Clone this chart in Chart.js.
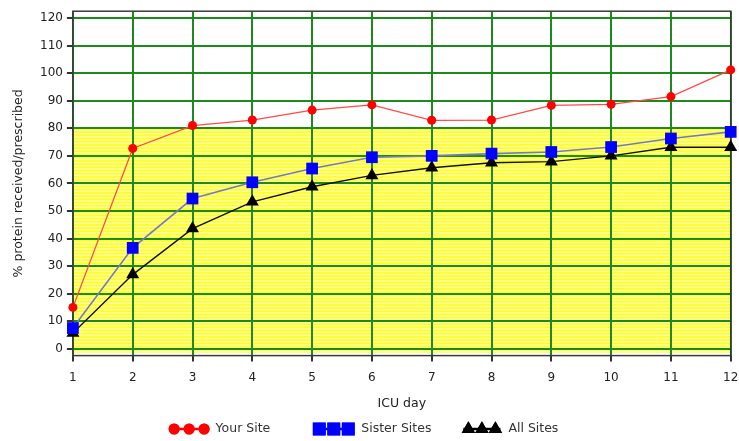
<!DOCTYPE html>
<html>
<head>
<meta charset="utf-8">
<script src="https://cdn.jsdelivr.net/npm/chart.js@4.4.0/dist/chart.umd.min.js"></script>
<style>
  html, body { margin: 0; padding: 0; background: #fff; }
  #wrap { width: 739px; height: 441px; }
</style>
</head>
<body>
<div id="wrap"><canvas id="chart"></canvas></div>
<script>
// values
const icuDays = ["1", "2", "3", "4", "5", "6", "7", "8", "9", "10", "11", "12"];
const yourSite = [15, 72.7, 81, 83, 86.6, 88.5, 82.9, 83, 88.3, 88.7, 91.5, 101.2];
const sisterSites = [7.5, 36.6, 54.5, 60.4, 65.4, 69.5, 70, 70.8, 71.4, 73.2, 76.3, 78.7];
const allSites = [5.7, 26.9, 43.6, 53.3, 58.8, 62.9, 65.7, 67.5, 67.9, 70, 73.1, 73.1];
const yTicks = [0, 10, 20, 30, 40, 50, 60, 70, 80, 90, 100, 110, 120];
const targetLevel = 80;

const FONT = "'DejaVu Sans', Verdana, sans-serif";

// yellow striped band under the target level, plus the frame
const targetBand = {
  id: "targetBand",
  beforeDraw(chart) {
    const { ctx, chartArea: a, scales } = chart;
    const top = scales.y.getPixelForValue(targetLevel);
    const bottom = a.bottom - 3;
    ctx.save();
    ctx.fillStyle = "#ffff30";
    ctx.fillRect(a.left, top, a.right - a.left, bottom - top);
    ctx.fillStyle = "#ffffa0";
    for (let yy = top + 1.5; yy < bottom - 1; yy += 3.2) {
      ctx.fillRect(a.left, yy, a.right - a.left, 1.4);
    }
    ctx.restore();
  },
  beforeDatasetsDraw(chart) {
    const { ctx, chartArea: a } = chart;
    ctx.save();
    ctx.strokeStyle = "#3a3a3a";
    ctx.lineWidth = 1.5;
    ctx.strokeRect(a.left, a.top, a.right - a.left, a.bottom - a.top);
    ctx.restore();
  }
};

// legend: three markers joined by a line, then the label
function drawGlyph(ctx, ds, x, cy) {
  const round = ds.pointStyle === "circle";
  const tri = ds.pointStyle === "triangle";
  const step = round ? 15 : (tri ? 13.5 : 14.5);
  const size = round ? 5.5 : ds.pointRadius + (tri ? 0.3 : 0.8);
  const off = round ? 5.5 : 7;
  const w = off * 2 + step * 2;
  ctx.save();
  ctx.strokeStyle = ds.pointBackgroundColor;
  ctx.lineWidth = 2.5;
  ctx.beginPath();
  ctx.moveTo(x + 2, cy);
  ctx.lineTo(x + w - 2, cy);
  ctx.stroke();
  ctx.fillStyle = ds.pointBackgroundColor;
  for (let i = 0; i < 3; i++) {
    ctx.beginPath();
    Chart.helpers.drawPoint(ctx, { pointStyle: ds.pointStyle, radius: size, borderWidth: 0 }, x + off + i * step, cy);
    ctx.fill();
  }
  ctx.restore();
  return w;
}

const legendGaps = [40, 30];
const siteLegend = {
  id: "siteLegend",
  afterDraw(chart) {
    const { ctx } = chart;
    const cy = chart.height - 12;
    ctx.save();
    ctx.font = "12.5px " + FONT;
    ctx.textBaseline = "middle";
    const sets = chart.data.datasets;
    const widths = sets.map(ds => 42 + 7 + ctx.measureText(ds.label).width);
    const total = widths.reduce((s, v) => s + v, 0) + legendGaps.reduce((s, v) => s + v, 0);
    let x = chart.width / 2 - total / 2 - 5;
    sets.forEach((ds, i) => {
      const gw = drawGlyph(ctx, ds, x, cy);
      ctx.fillStyle = "#333";
      ctx.fillText(ds.label, x + gw + 6, cy);
      x += widths[i] + (legendGaps[i] || 0);
    });
    ctx.restore();
  }
};

new Chart(document.getElementById("chart"), {
  type: "line",
  data: {
    labels: icuDays,
    datasets: [
      {
        label: "Your Site",
        data: yourSite,
        borderColor: "#ff4a4a",
        borderWidth: 1.3,
        pointStyle: "circle",
        pointRadius: 4.5,
        pointBackgroundColor: "#ff0000",
        pointBorderWidth: 0,
        clip: false
      },
      {
        label: "Sister Sites",
        data: sisterSites,
        borderColor: "#7479c4",
        borderWidth: 1.6,
        pointStyle: "rect",
        pointRadius: 8.3,
        pointBackgroundColor: "#0000ff",
        pointBorderWidth: 0,
        clip: false
      },
      {
        label: "All Sites",
        data: allSites,
        borderColor: "#111111",
        borderWidth: 1.4,
        pointStyle: "triangle",
        pointRadius: 7.5,
        pointBackgroundColor: "#000000",
        pointBorderWidth: 0,
        clip: false
      }
    ]
  },
  options: {
    responsive: true,
    maintainAspectRatio: false,
    animation: false,
    layout: { padding: { top: 10, right: 0, left: 11, bottom: 30 } },
    plugins: {
      legend: { display: false },
      tooltip: { enabled: false }
    },
    scales: {
      x: {
        offset: false,
        afterFit: scale => { scale.paddingRight = 5; },
        grid: { color: "#1e8a1e", lineWidth: 2, tickColor: "#333", tickLength: 6 },
        border: { display: false },
        ticks: { color: "#222", font: { family: FONT, size: 12 }, padding: 9, maxRotation: 0 },
        title: { display: true, text: "ICU day", color: "#222", font: { family: FONT, size: 12.5 }, padding: { top: 2, bottom: 0 } }
      },
      y: {
        min: -2.5,
        max: 122.5,
        afterBuildTicks: scale => { scale.ticks = yTicks.map(v => ({ value: v })); },
        grid: { color: "#1e8a1e", lineWidth: 2, tickColor: "#333", tickLength: 6 },
        border: { display: false },
        ticks: { color: "#222", font: { family: FONT, size: 12 }, padding: 4 },
        title: { display: true, text: "% protein received/prescribed", color: "#222", font: { family: FONT, size: 12.5 }, padding: { top: 0, bottom: 10 } }
      }
    }
  },
  plugins: [targetBand, siteLegend]
});
</script>
</body>
</html>
